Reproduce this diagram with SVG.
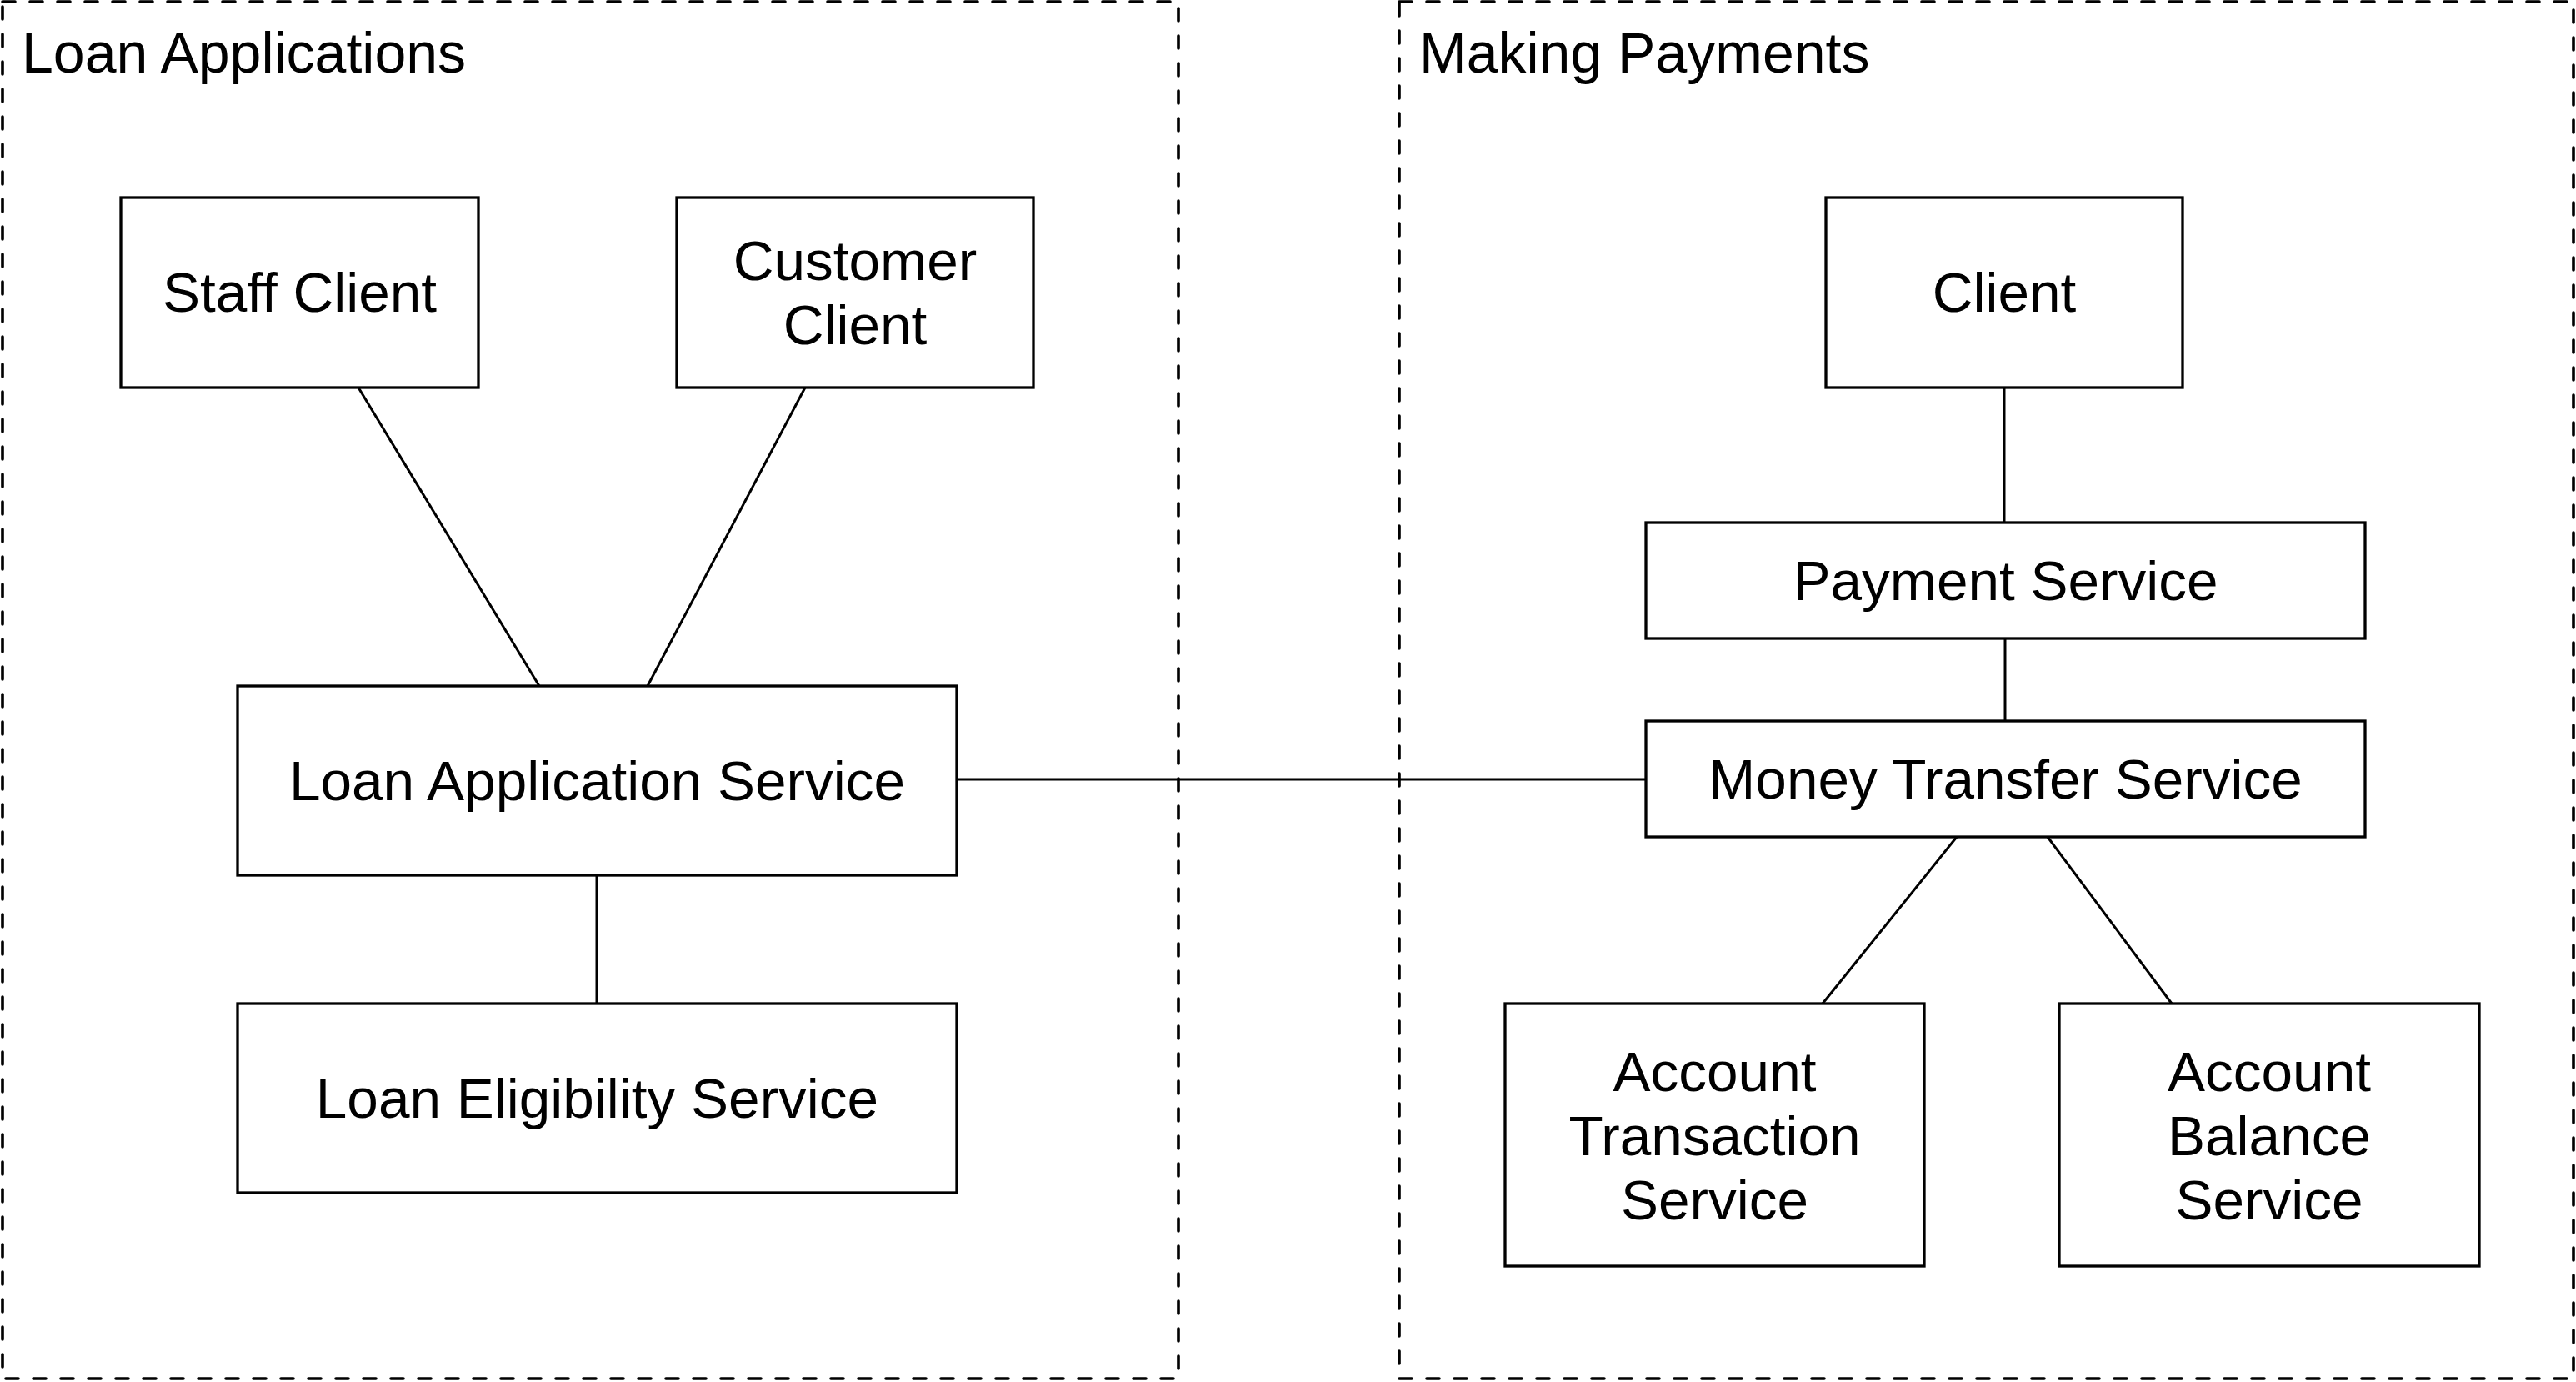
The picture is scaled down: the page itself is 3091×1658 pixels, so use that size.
<svg xmlns="http://www.w3.org/2000/svg" width="3091" height="1658" viewBox="0 0 3091 1658">
<style>
.bg{fill:#ffffff}
.group{fill:none;stroke:#000;stroke-width:3.6;stroke-dasharray:15 18;stroke-linecap:round}
.box{fill:#ffffff;stroke:#000;stroke-width:3.3}
.edge{fill:none;stroke:#000;stroke-width:3}
.lbl{font-family:"Liberation Sans",Arial,Helvetica,sans-serif;font-size:67.5px;fill:#000;text-anchor:middle}
.title{font-family:"Liberation Sans",Arial,Helvetica,sans-serif;font-size:68px;fill:#000}
</style>
<rect class="bg" x="0" y="0" width="3091" height="1658"/>
<g id="group-loan-applications">
<rect class="group" x="3" y="2" width="1411" height="1652"/>
<text class="title" x="26" y="87">Loan Applications</text>
</g>
<g id="group-making-payments">
<rect class="group" x="1679" y="2" width="1409" height="1652"/>
<text class="title" x="1703" y="87">Making Payments</text>
</g>
<g id="connectors">
<line class="edge" x1="430" y1="465" x2="647" y2="823"/>
<line class="edge" x1="966" y1="465" x2="777" y2="823"/>
<line class="edge" x1="716" y1="1050" x2="716" y2="1204"/>
<line class="edge" x1="1148" y1="935" x2="1975" y2="935"/>
<line class="edge" x1="2405" y1="465" x2="2405" y2="627"/>
<line class="edge" x1="2406" y1="766" x2="2406" y2="865"/>
<line class="edge" x1="2348" y1="1004" x2="2187" y2="1204"/>
<line class="edge" x1="2457" y1="1004" x2="2606" y2="1204"/>
</g>
<g id="staff-client">
<rect class="box" x="145" y="237" width="429" height="228"/>
<text class="lbl" x="359.5" y="374">Staff Client</text>
</g>
<g id="customer-client">
<rect class="box" x="812" y="237" width="428" height="228"/>
<text class="lbl" x="1026" y="336">Customer</text>
<text class="lbl" x="1026" y="413">Client</text>
</g>
<g id="loan-application-service">
<rect class="box" x="285" y="823" width="863" height="227"/>
<text class="lbl" x="716.5" y="960">Loan Application Service</text>
</g>
<g id="loan-eligibility-service">
<rect class="box" x="285" y="1204" width="863" height="227"/>
<text class="lbl" x="716.5" y="1341">Loan Eligibility Service</text>
</g>
<g id="client">
<rect class="box" x="2191" y="237" width="428" height="228"/>
<text class="lbl" x="2405" y="374">Client</text>
</g>
<g id="payment-service">
<rect class="box" x="1975" y="627" width="863" height="139"/>
<text class="lbl" x="2406.5" y="720">Payment Service</text>
</g>
<g id="money-transfer-service">
<rect class="box" x="1975" y="865" width="863" height="139"/>
<text class="lbl" x="2406.5" y="958">Money Transfer Service</text>
</g>
<g id="account-transaction-service">
<rect class="box" x="1806" y="1204" width="503" height="315"/>
<text class="lbl" x="2057.5" y="1309">Account</text>
<text class="lbl" x="2057.5" y="1386">Transaction</text>
<text class="lbl" x="2057.5" y="1463">Service</text>
</g>
<g id="account-balance-service">
<rect class="box" x="2471" y="1204" width="504" height="315"/>
<text class="lbl" x="2723" y="1309">Account</text>
<text class="lbl" x="2723" y="1386">Balance</text>
<text class="lbl" x="2723" y="1463">Service</text>
</g>
</svg>
